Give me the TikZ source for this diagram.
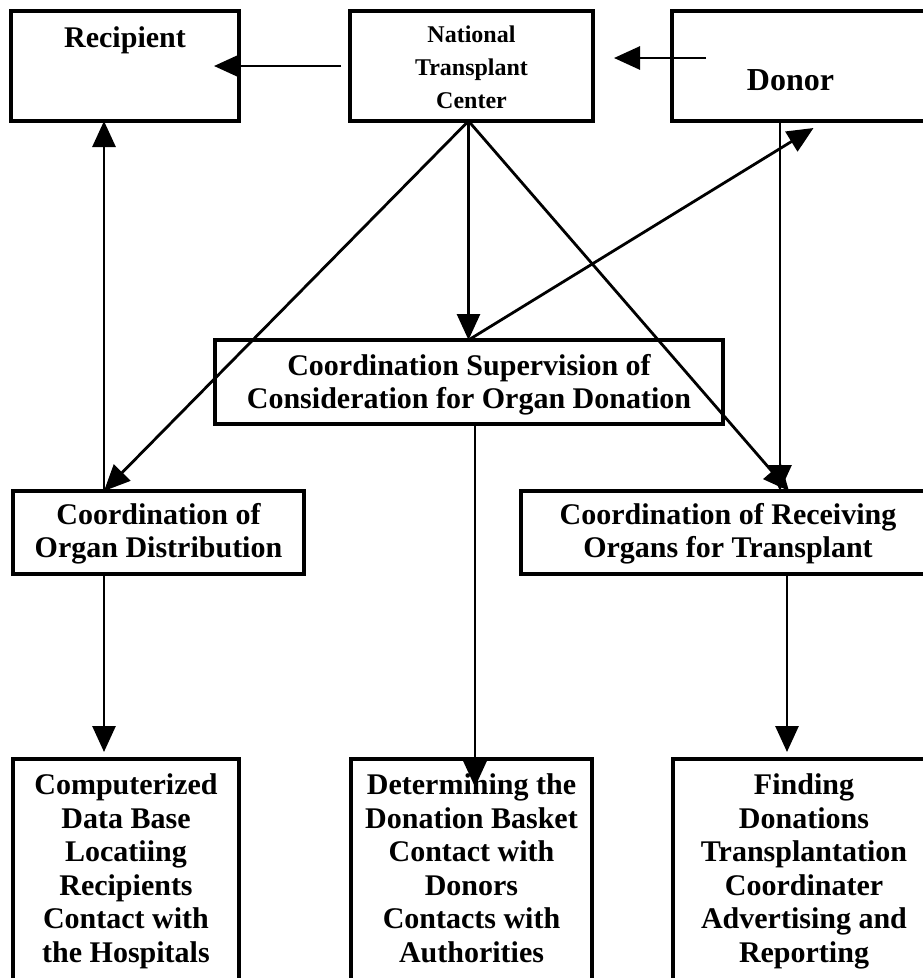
\documentclass[tikz,border=0pt]{standalone}
\usepackage{fontspec}
\setmainfont{Liberation Serif}
\usetikzlibrary{arrows.meta}

\newcommand{\lowend}{\rule[-24pt]{0pt}{24pt}}

\begin{document}
\begin{tikzpicture}[x=1pt,y=-1pt]
\tikzstyle{every node}+=[inner sep=0pt, outer sep=0pt]
\tikzstyle{blk}=[draw=black, line width=4.3pt, anchor=north west, align=center, font=\bfseries\fontsize{30}{33}\selectfont]
\tikzstyle{tall}=[blk, inner ysep=15pt, font=\bfseries\fontsize{30}{33.5}\selectfont]
\tikzstyle{arr}=[black, line width=2.8pt, -{Triangle[length=26pt,width=23pt]}]
\useasboundingbox (0,0) rectangle (923,978);
\clip (0,0) rectangle (923,978);
\node [blk, minimum width=228pt, text height=36pt, text depth=74pt] (rcp) at (11,11) {Recipient};
\node [blk, minimum width=243pt, minimum height=110pt, font=\bfseries\fontsize{24}{33}\selectfont] (ntc) at (350,11) {\rule{0pt}{20pt}National\\Transplant\\Center};
\node [blk, minimum width=263pt, text height=79pt, text depth=31pt, font=\bfseries\fontsize{32}{36}\selectfont] (dnr) at (672,11) {\hspace*{-26pt}Donor};
\node [blk, minimum width=508pt, minimum height=84pt] (sup) at (215,340) {\rule{0pt}{26pt}Coordination Supervision of\\Consideration for Organ Donation};
\node [blk, minimum width=291pt, minimum height=83pt] (dst) at (13,491) {\rule{0pt}{24pt}Coordination of\\Organ Distribution};
\node [blk, minimum width=414pt, minimum height=83pt] (rcv) at (521,491) {\rule{0pt}{24pt}Coordination of Receiving\\Organs for Transplant};
\node [tall, minimum width=226pt] (db) at (13,759) {Computerized\\Data Base\\Locatiing\\Recipients\\Contact with\\the Hospitals\lowend};
\node [tall, minimum width=241pt] (bsk) at (351,759) {Determining the\\Donation Basket\\Contact with\\Donors\\Contacts with\\Authorities\lowend};
\node [tall, minimum width=262pt] (fnd) at (673,759) {Finding\\Donations\\Transplantation\\Coordinater\\Advertising and\\Reporting\lowend};
\coordinate (nbot) at ([xshift=-3pt]ntc.south);
\coordinate (dtop) at ([xshift=-54.5pt]dst.north);
\coordinate (dbot) at ([xshift=-23.5pt]dnr.south);
\coordinate (stop) at (nbot |- sup.north);
\coordinate (sbot) at ([xshift=6pt]sup.south);
\coordinate (rbot) at ([xshift=59pt]rcv.south);
\draw [arr] ([xshift=-9pt]ntc.west) -- ([xshift=-25pt]rcp.east);
\draw [arr] ([xshift=34pt,yshift=8pt]dnr.west) -- ([xshift=21pt,yshift=8pt]ntc.east);
\draw [arr] (dtop) -- (dtop |- rcp.south);
\draw [arr] (nbot) -- (dtop);
\draw [arr] (nbot) -- (stop);
\draw [arr] (stop) -- ([xshift=10pt,yshift=-7pt]dnr.south);
\draw [arr] (nbot) -- ([xshift=61pt]rcv.north);
\draw [arr] (dbot) -- (dbot |- rcv.north);
\draw [arr] (sbot) -- ([yshift=-28pt]sbot |- bsk.north);
\draw [arr] (dtop |- dst.south) -- ([yshift=7pt]dtop |- db.north);
\draw [arr] (rbot) -- ([yshift=7pt]rbot |- fnd.north);
\end{tikzpicture}
\end{document}
